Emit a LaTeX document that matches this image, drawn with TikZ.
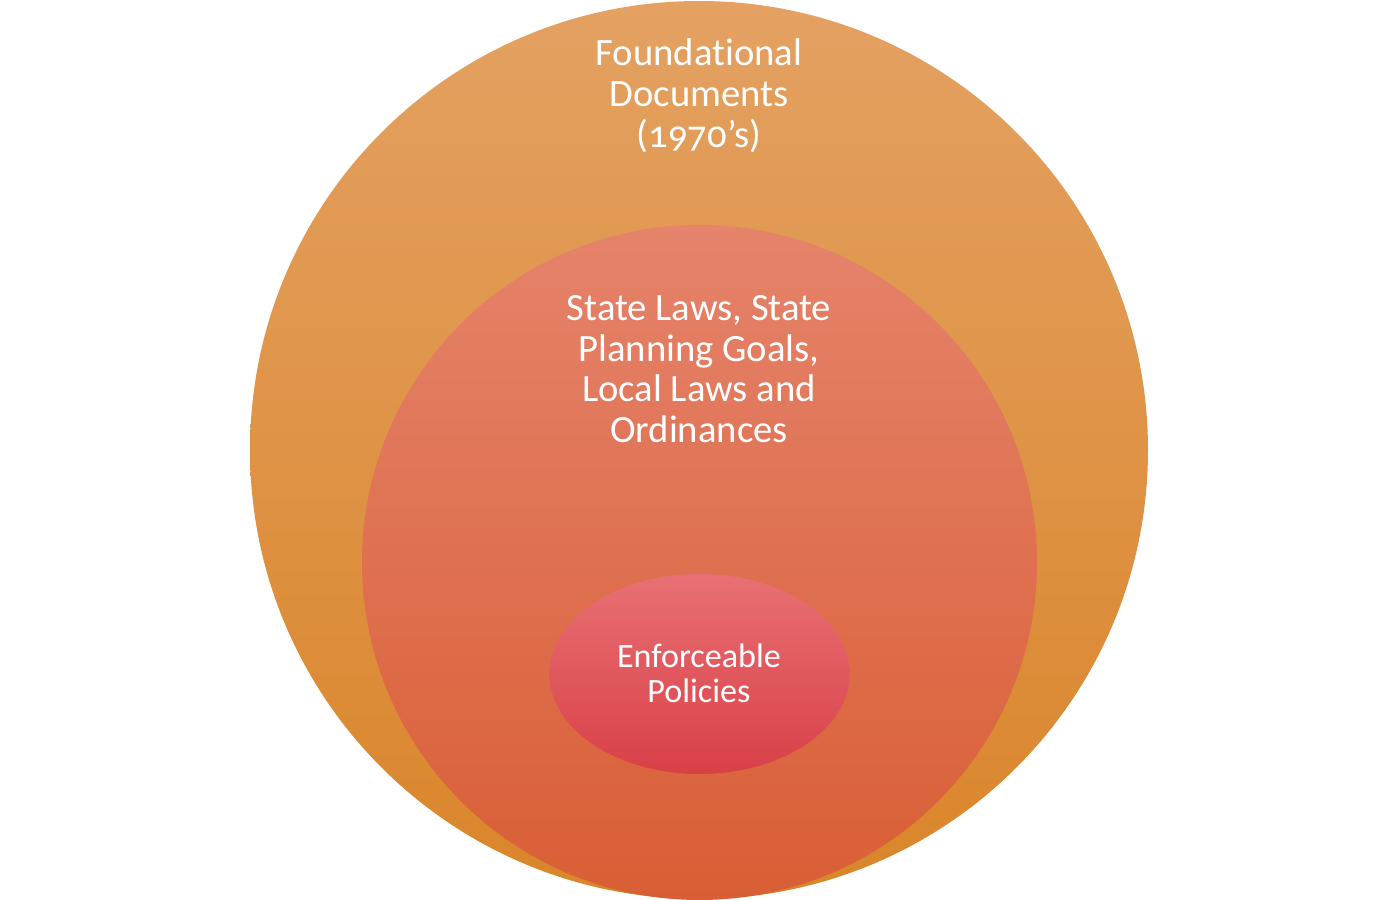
\documentclass[tikz,border=0pt]{standalone}
\usepackage{fontspec}
\setmainfont{Carlito}[Numbers=OldStyle,Ligatures=NoCommon]
\usetikzlibrary{shapes.geometric}
\definecolor{foundtop}{RGB}{228,161,98}
\definecolor{foundbot}{RGB}{218,133,42}
\definecolor{lawtop}{RGB}{229,131,107}
\definecolor{lawbot}{RGB}{217,94,53}
\definecolor{poltop}{RGB}{232,112,116}
\definecolor{polbot}{RGB}{217,64,72}
\tikzset{label/.style={text=white,align=center,font=\fontsize{11}{11.6}\selectfont}}
\begin{document}
\begin{tikzpicture}
\useasboundingbox (0,0) rectangle (13.99,9);
\node[circle,inner sep=0,minimum size=8.98cm,top color=foundtop,bottom color=foundbot] (found) at (6.99,4.5) {};
\node[circle,inner sep=0,minimum size=6.75cm,top color=lawtop,bottom color=lawbot] (law) at (6.995,3.375) {};
\node[ellipse,inner sep=0,minimum width=3cm,minimum height=2cm,top color=poltop,bottom color=polbot] (pol) at (6.995,2.26) {};
\node[label] (foundtext) at (6.99,8.04) {Foundational\\Documents\\(1970’s)};
\node[label] (lawtext) at (6.99,5.31) {State Laws, State\\Planning Goals,\\Local Laws and\\Ordinances};
\node[label,font=\fontsize{9.7}{9.9}\selectfont] (poltext) at (6.99,2.27) {Enforceable\\Policies};
\end{tikzpicture}
\end{document}
